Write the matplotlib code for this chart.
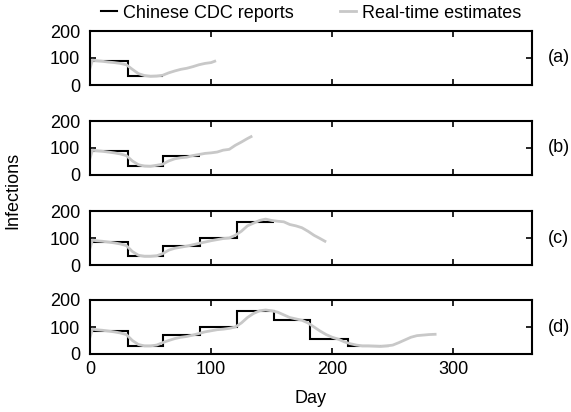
import matplotlib
matplotlib.use("Agg")
import matplotlib.pyplot as plt

plt.rcParams["font.family"] = ["Liberation Sans", "DejaVu Sans"]
plt.rcParams["font.size"] = 13

panel_labels = ["(a)", "(b)", "(c)", "(d)"]

# Chinese CDC reports: monthly step values and their edges (days)
cdc_edges = [
    [0, 31, 60],
    [0, 31, 60, 91],
    [0, 31, 60, 91, 121, 152],
    [0, 31, 60, 91, 121, 152, 182, 213, 247],
]
cdc_values = [
    [88, 33],
    [88, 33, 72],
    [86, 32, 70, 99, 158],
    [85, 30, 70, 100, 158, 126, 55, 30],
]

# Real-time estimates
est_days_a = [0, 2, 5, 10, 15, 20, 25, 30, 35, 40, 45, 50, 55, 60, 65, 70, 75, 80, 85, 90, 95, 100, 103]
est_vals_a = [62, 92, 90, 88, 85, 83, 80, 75, 58, 42, 35, 32, 33, 36, 45, 52, 58, 62, 68, 75, 80, 83, 88]

est_days_b = [0, 2, 5, 10, 15, 20, 25, 30, 35, 40, 45, 50, 55, 60, 65, 70, 75, 80, 85, 90, 95,
              100, 105, 110, 115, 120, 125, 130, 133]
est_vals_b = [62, 92, 90, 88, 85, 82, 78, 72, 52, 38, 33, 32, 36, 40, 52, 60, 64, 66, 72, 76, 80,
              82, 85, 92, 95, 110, 122, 135, 142]

est_days_c = [0, 2, 5, 10, 15, 20, 25, 30, 35, 40, 45, 50, 55, 60, 65, 70, 75, 80, 85, 90, 95,
              100, 105, 110, 115, 120, 125, 130, 135, 140, 145, 150, 155, 160, 165, 170, 175,
              180, 185, 190, 194]
est_vals_c = [62, 92, 90, 88, 85, 82, 78, 72, 50, 36, 32, 32, 34, 42, 55, 62, 66, 70, 75, 80, 85,
              90, 94, 98, 100, 110, 125, 145, 155, 165, 170, 165, 162, 160, 150, 145, 138,
              125, 110, 98, 88]

est_days_d = [0, 2, 5, 10, 15, 20, 25, 30, 35, 40, 45, 50, 55, 60, 65, 70, 75, 80, 85, 90, 95,
              100, 105, 110, 115, 120, 125, 130, 135, 140, 145, 150, 155, 160, 165, 170, 175,
              180, 185, 190, 195, 200, 205, 210, 215, 220, 225, 230, 240, 245, 250, 255, 260,
              265, 270, 275, 280, 285]
est_vals_d = [62, 92, 90, 88, 85, 82, 78, 72, 50, 35, 30, 30, 33, 42, 50, 57, 62, 65, 70, 76, 82,
              86, 90, 92, 95, 100, 115, 135, 150, 160, 163, 160, 155, 145, 135, 130, 125,
              115, 100, 85, 72, 62, 55, 45, 38, 33, 30, 30, 28, 30, 33, 42, 52,
              62, 68, 70, 72, 73]

est_days = [est_days_a, est_days_b, est_days_c, est_days_d]
est_vals = [est_vals_a, est_vals_b, est_vals_c, est_vals_d]

fig = plt.figure(figsize=(5.71, 4.12), dpi=100)
W, H = 571, 412
tops = [31, 121, 211, 300]
for i in range(4):
    ax = fig.add_axes([90 / W, 1 - (tops[i] + 54) / H, 442 / W, 54 / H])
    ax.stairs(cdc_values[i], cdc_edges[i], baseline=None, color="black", linewidth=1.5)
    l2, = ax.plot(est_days[i], est_vals[i], color="#c8c8c8", linewidth=2)
    ax.set_xlim(0, 365)
    ax.set_ylim(0, 200)
    ax.set_yticks([0, 100, 200])
    ax.set_xticks([0, 100, 200, 300])
    ax.tick_params(direction="in", top=True, right=True, length=4, width=1.2, pad=7)
    for s in ax.spines.values():
        s.set_linewidth(1.5)
    if i < 3:
        ax.set_xticklabels([])
    else:
        ax.tick_params(axis="x", pad=5)
        ax.set_xlabel("Day", labelpad=9)
    ax.text(1.035, 0.5, panel_labels[i], transform=ax.transAxes, ha="left", va="center")

fig.text(4 / W, 1 - 190 / H, "Infections", rotation=90, ha="left", va="center")
l1 = plt.Line2D([], [], color="black", linewidth=1.5)
fig.legend(handles=[l1, l2], labels=["Chinese CDC reports", "Real-time estimates"],
           loc="center", bbox_to_anchor=(311 / W, 1 - 13 / H), ncol=2,
           frameon=False, handlelength=0.9, columnspacing=2.6, handletextpad=0.3,
           borderpad=0, borderaxespad=0)

fig.savefig("out.png", dpi=100)
